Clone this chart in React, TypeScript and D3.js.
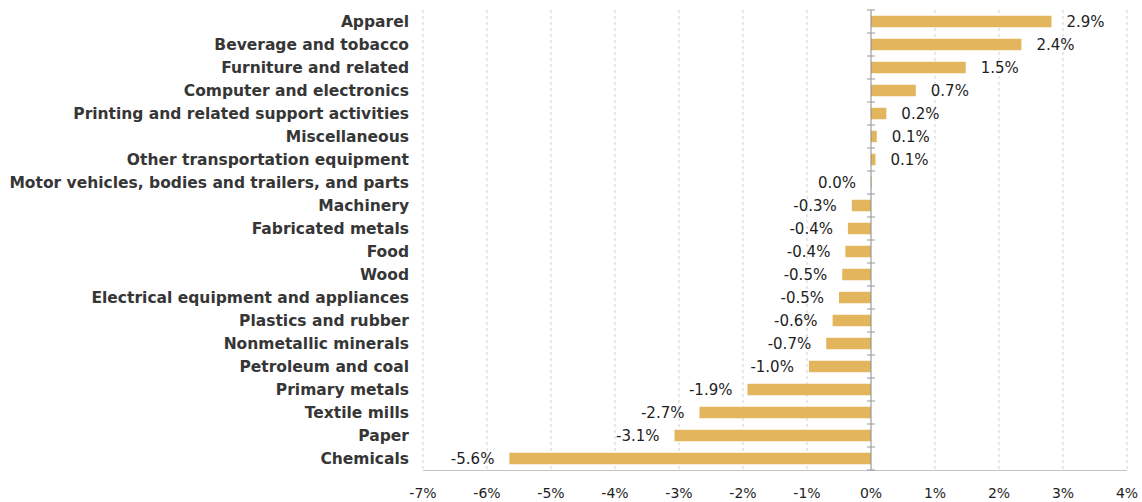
import { useEffect, useRef } from "react"
import * as d3 from "d3"

// industries, top to bottom
const categories = [
  "Apparel",
  "Beverage and tobacco",
  "Furniture and related",
  "Computer and electronics",
  "Printing and related support activities",
  "Miscellaneous",
  "Other transportation equipment",
  "Motor vehicles, bodies and trailers, and parts",
  "Machinery",
  "Fabricated metals",
  "Food",
  "Wood",
  "Electrical equipment and appliances",
  "Plastics and rubber",
  "Nonmetallic minerals",
  "Petroleum and coal",
  "Primary metals",
  "Textile mills",
  "Paper",
  "Chemicals",
]
// bar lengths as drawn (percent)
const values = [2.82, 2.35, 1.48, 0.7, 0.24, 0.09, 0.07, 0.01, -0.3, -0.36, -0.4, -0.45, -0.5, -0.6, -0.7, -0.97, -1.93, -2.68, -3.07, -5.65]
// printed labels
const labels = ["2.9%", "2.4%", "1.5%", "0.7%", "0.2%", "0.1%", "0.1%", "0.0%", "-0.3%", "-0.4%", "-0.4%", "-0.5%", "-0.5%", "-0.6%", "-0.7%", "-1.0%", "-1.9%", "-2.7%", "-3.1%", "-5.6%"]
const xTicks = [-7, -6, -5, -4, -3, -2, -1, 0, 1, 2, 3, 4]

const W = 1142
const H = 502

export default function App() {
  const svgRef = useRef<SVGSVGElement>(null)

  useEffect(() => {
    const svg = d3.select(svgRef.current)
    svg.selectAll("*").remove()

    const x = d3.scaleLinear().domain([-7, 4]).range([423, 1127])
    const y = d3.scaleBand().domain(categories).range([10, 470]).paddingInner(0.5).paddingOuter(0.25)
    const font = "'DejaVu Sans', sans-serif"

    // gridlines
    svg.append("g")
      .selectAll("line")
      .data(xTicks.filter(d => d !== 0))
      .join("line")
      .attr("x1", d => x(d)).attr("x2", d => x(d))
      .attr("y1", 10).attr("y2", 470)
      .attr("stroke", "#d2d2d2")
      .attr("stroke-width", 1)
      .attr("stroke-dasharray", "3,3")

    // bottom axis line
    svg.append("line")
      .attr("x1", x(-7)).attr("x2", x(4))
      .attr("y1", 470.5).attr("y2", 470.5)
      .attr("stroke", "#c4c4c4")

    // bars
    svg.append("g")
      .selectAll("rect")
      .data(values)
      .join("rect")
      .attr("x", d => x(Math.min(0, d)))
      .attr("width", d => Math.abs(x(d) - x(0)))
      .attr("y", (_, i) => y(categories[i])!)
      .attr("height", y.bandwidth())
      .attr("fill", "#e3b65e")

    // zero axis with ticks between rows
    const step = y.step()
    svg.append("line")
      .attr("x1", x(0)).attr("x2", x(0))
      .attr("y1", 10).attr("y2", 470)
      .attr("stroke", "#888")
    svg.append("g")
      .selectAll("line")
      .data(d3.range(categories.length + 1))
      .join("line")
      .attr("x1", x(0) - 4).attr("x2", x(0) + 4)
      .attr("y1", i => y(categories[0])! - step * 0.25 + i * step)
      .attr("y2", i => y(categories[0])! - step * 0.25 + i * step)
      .attr("stroke", "#999")

    // category labels
    svg.append("g")
      .selectAll("text")
      .data(categories)
      .join("text")
      .attr("x", 409)
      .attr("y", d => y(d)! + y.bandwidth() / 2)
      .attr("dy", "0.35em")
      .attr("text-anchor", "end")
      .attr("font-family", font)
      .attr("font-weight", "bold")
      .attr("font-size", 15.5)
      .attr("fill", "#363636")
      .text(d => d)

    // value labels
    svg.append("g")
      .selectAll("text")
      .data(values)
      .join("text")
      .attr("x", d => d > 0.05 ? x(d) + 15 : x(Math.min(0, d)) - 15)
      .attr("y", (_, i) => y(categories[i])! + y.bandwidth() / 2)
      .attr("dy", "0.35em")
      .attr("text-anchor", d => d > 0.05 ? "start" : "end")
      .attr("font-family", font)
      .attr("font-size", 15)
      .attr("fill", "#1e1e1e")
      .text((_, i) => labels[i])

    // x tick labels
    svg.append("g")
      .selectAll("text")
      .data(xTicks)
      .join("text")
      .attr("x", d => x(d))
      .attr("y", 493)
      .attr("dy", "0.35em")
      .attr("text-anchor", "middle")
      .attr("font-family", font)
      .attr("font-size", 14)
      .attr("fill", "#1e1e1e")
      .text(d => `${d}%`)
  }, [])

  return (
    <svg ref={svgRef} width={W} height={H}
      style={{ position: "absolute", left: 0, top: 0, background: "#fff" }} />
  )
}
